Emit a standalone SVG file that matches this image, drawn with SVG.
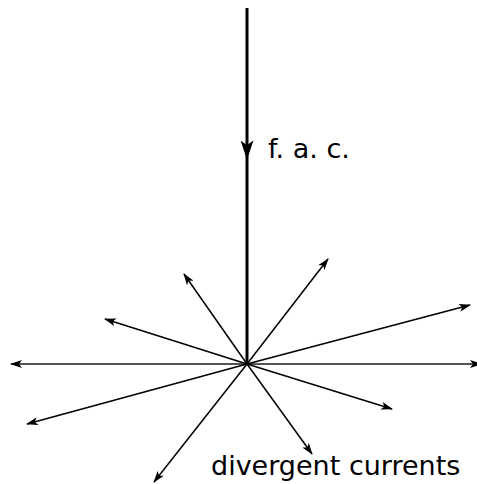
<svg xmlns="http://www.w3.org/2000/svg" width="477" height="484" viewBox="0 0 477 484">
<defs>
<marker id="ah" viewBox="0 0 12 8" refX="11" refY="4" markerWidth="12" markerHeight="8" markerUnits="userSpaceOnUse" orient="auto">
<path d="M0,0 L12,4 L0,8 L3,4 Z" fill="#000"/>
</marker>
<marker id="ahbig" viewBox="0 0 12 8" refX="6" refY="4" markerWidth="20" markerHeight="13" markerUnits="userSpaceOnUse" orient="auto">
<path d="M0,0 L12,4 L0,8 L3,4 Z" fill="#000"/>
</marker>
</defs>
<style>
.a{stroke:#000;stroke-width:1.5;fill:none;marker-end:url(#ah)}
.t{font-family:"DejaVu Sans",sans-serif;font-size:27px;fill:#000}
</style>
<g id="connectors">
<line x1="247" y1="8" x2="247" y2="364" stroke="#000" stroke-width="3"/>
<path d="M247,140 L247,150" stroke="none" fill="none" marker-end="url(#ahbig)"/>
<line x1="247" y1="364" x2="11" y2="364" stroke="#555" stroke-width="2" marker-end="url(#ah)"/>
<line x1="247" y1="364" x2="481" y2="364" stroke="#555" stroke-width="2" marker-end="url(#ah)"/>
<line class="a" x1="247" y1="364" x2="184" y2="274"/>
<line class="a" x1="247" y1="364" x2="328" y2="259"/>
<line class="a" x1="247" y1="364" x2="105" y2="319"/>
<line class="a" x1="247" y1="364" x2="470" y2="305"/>
<line class="a" x1="247" y1="364" x2="27" y2="424"/>
<line class="a" x1="247" y1="364" x2="392" y2="409"/>
<line class="a" x1="247" y1="364" x2="154" y2="482"/>
<line class="a" x1="247" y1="364" x2="312" y2="454"/>
</g>
<g id="label-fac"><text class="t" x="268" y="158">f. a. c.</text></g>
<g id="label-divergent"><text class="t" x="211" y="475">divergent currents</text></g>
</svg>
